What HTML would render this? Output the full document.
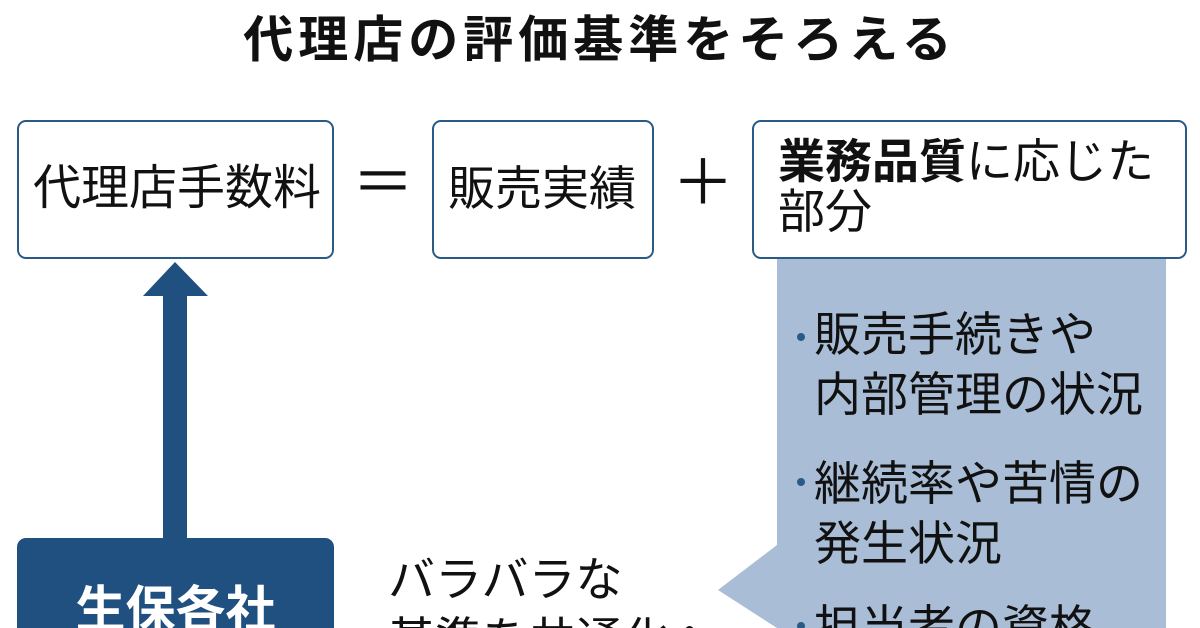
<!DOCTYPE html>
<html><head><meta charset="utf-8"><style>
html,body{margin:0;width:1200px;height:628px;overflow:hidden}
body{background:#fff;position:relative;font-family:"Liberation Sans","Noto Sans CJK JP",sans-serif;color:#111}
.a{position:absolute}
.box{position:absolute;border:2.5px solid #2a5a86;border-radius:9px;box-sizing:border-box;background:#fff}
.t{position:absolute;font-size:47px;line-height:56px;white-space:nowrap}
</style></head><body>
<div class="t" style="left:0;width:1200px;text-align:center;top:12px;font-size:50px;letter-spacing:5px;font-weight:bold">代理店の評価基準をそろえる</div>
<div class="box" style="left:17px;top:120px;width:317px;height:139px"></div>
<div class="t" style="left:33px;top:161px;font-size:48px">代理店手数料</div>
<div class="t" style="left:352px;top:156px;font-size:62px">＝</div>
<div class="box" style="left:432px;top:120px;width:222px;height:139px"></div>
<div class="t" style="left:448px;top:161px">販売実績</div>
<div class="t" style="left:672px;top:156px;font-size:62px">＋</div>
<div class="a" style="left:777px;top:258px;width:389px;height:370px;background:#a9bdd6"></div>
<div class="box" style="left:752px;top:120px;width:435px;height:139px"></div>
<div class="t" style="left:778px;top:134px"><b>業務品質</b>に応じた</div>
<div class="t" style="left:778px;top:184px">部分</div>
<svg class="a" style="left:0;top:0" width="1200" height="628">
<polygon points="143,296 175,262 208,296" fill="#1f5080"/>
<rect x="163" y="294" width="24" height="250" fill="#1f5080"/>
<polygon points="777,545 718,590 777,628" fill="#a9bdd6"/>
<circle cx="801" cy="337" r="4" fill="#2a5a86"/>
<circle cx="801" cy="482" r="4" fill="#2a5a86"/>
<circle cx="801" cy="626" r="4" fill="#2a5a86"/>
</svg>
<div class="t" style="left:814px;top:307px">販売手続きや</div>
<div class="t" style="left:814px;top:367px">内部管理の状況</div>
<div class="t" style="left:814px;top:456px">継続率や苦情の</div>
<div class="t" style="left:814px;top:516px">発生状況</div>
<div class="t" style="left:814px;top:600px;height:28px;overflow:hidden">担当者の資格</div>
<div class="a" style="left:17px;top:538px;width:317px;height:90px;background:#1f5080;border-radius:9px 9px 0 0"></div>
<div class="t" style="left:17px;width:317px;text-align:center;top:582px;height:46px;overflow:hidden;color:#fff;font-weight:bold;font-size:50px">生保各社</div>
<div class="t" style="left:388px;top:552px">バラバラな</div>
<div class="t" style="left:388px;top:612px;height:16px;overflow:hidden">基準を共通化へ</div>
</body></html>
